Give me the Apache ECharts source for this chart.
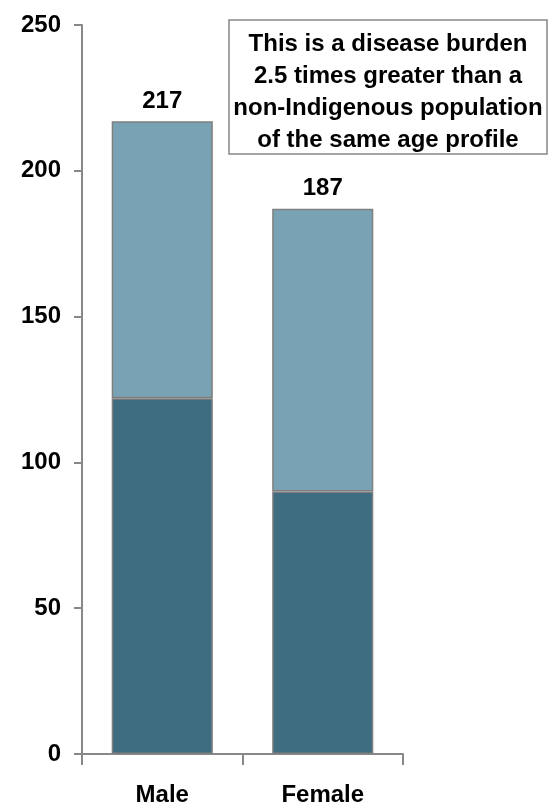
<!DOCTYPE html>
<html>
<head>
<meta charset="utf-8">
<script src="https://cdn.jsdelivr.net/npm/echarts@6/dist/echarts.min.js"></script>
<style>
  html, body { margin: 0; padding: 0; background: #fff; }
  #main { width: 549px; height: 809px; }
</style>
</head>
<body>
<div id="main"></div>
<script>
var categories = ['Male', 'Female'];
var lowerPart = [122, 90];
var upperPart = [95, 97];
var yTicks = [0, 50, 100, 150, 200, 250];
var note = 'This is a disease burden\n2.5 times greater than a\nnon-Indigenous population\nof the same age profile';

var font = "'Liberation Sans', Arial, sans-serif";
var grey = '#888888';

var myChart = echarts.init(document.getElementById('main'));

var option = {
  animation: false,
  grid: { left: 82, right: 146, top: 25, bottom: 55 },
  xAxis: {
    type: 'category',
    data: categories,
    axisLine: { lineStyle: { color: grey, width: 2 } },
    axisTick: { show: true, length: 11, lineStyle: { color: grey, width: 2 } },
    axisLabel: { margin: 29, color: '#000', fontWeight: 'bold', fontSize: 24, fontFamily: font }
  },
  yAxis: {
    type: 'value',
    min: yTicks[0],
    max: yTicks[yTicks.length - 1],
    interval: 50,
    splitLine: { show: false },
    axisLine: { show: true, lineStyle: { color: grey, width: 2 } },
    axisTick: { show: true, length: 8, lineStyle: { color: grey, width: 2 } },
    axisLabel: { margin: 21, color: '#000', fontWeight: 'bold', fontSize: 24, fontFamily: font }
  },
  series: [{
    type: 'bar',
    stack: 'total',
    barWidth: '63%',
    data: lowerPart,
    itemStyle: { color: '#3E6C81', borderColor: '#7f7f7f', borderWidth: 1.5 }
  }, {
    type: 'bar',
    stack: 'total',
    data: upperPart,
    itemStyle: { color: '#79A3B5', borderColor: '#7f7f7f', borderWidth: 1.5 },
    label: {
      show: true,
      position: 'top',
      distance: 8,
      color: '#000',
      fontWeight: 'bold',
      fontSize: 24,
      fontFamily: font,
      formatter: function (p) {
        return lowerPart[p.dataIndex] + upperPart[p.dataIndex];
      }
    }
  }],
  graphic: [{
    type: 'rect',
    shape: { x: 229, y: 20, width: 318, height: 134 },
    style: { fill: '#fff', stroke: grey, lineWidth: 1.5 }
  }, {
    type: 'text',
    x: 388,
    y: 92,
    style: {
      text: note,
      align: 'center',
      verticalAlign: 'middle',
      lineHeight: 32,
      fill: '#000',
      font: 'bold 24px ' + font
    }
  }]
};
myChart.setOption(option);
</script>
</body>
</html>
